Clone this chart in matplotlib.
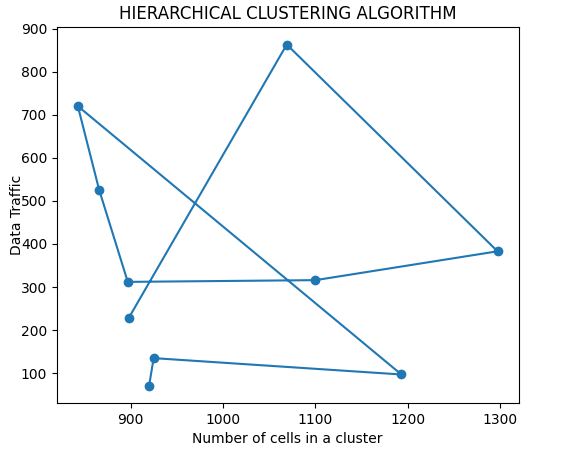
import matplotlib
matplotlib.use("Agg")
import matplotlib.pyplot as plt

# cluster sizes and traffic, in drawing order
cells = [920, 925, 1193, 843, 866, 897, 1100, 1297, 1069, 898]
traffic = [70, 135, 97, 720, 526, 312, 316, 383, 863, 228]

fig = plt.figure(figsize=(5.63, 4.5), dpi=100)
ax = fig.add_axes([0.101, 0.104, 0.82, 0.835])
ax.plot(cells, traffic, marker='o', color='#1f77b4')
ax.set_xticks([900, 1000, 1100, 1200, 1300])
ax.set_yticks([100, 200, 300, 400, 500, 600, 700, 800, 900])
ax.set_xlabel('Number of cells in a cluster')
ax.set_ylabel('Data Traffic', labelpad=-2)
ax.set_title('HIERARCHICAL CLUSTERING ALGORITHM')

fig.savefig('out.png', dpi=100)
